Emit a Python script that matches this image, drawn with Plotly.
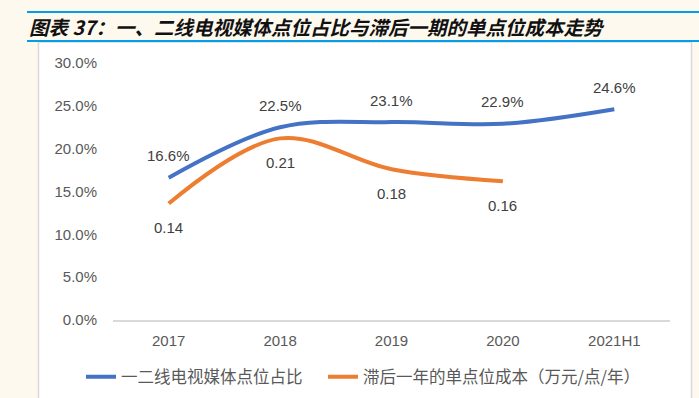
import plotly.graph_objects as go

categories = ["2017", "2018", "2019", "2020", "2021H1"]
share_values = [0.166, 0.225, 0.231, 0.229, 0.246]          # 一二线电视媒体点位占比
cost_categories = ["2017", "2018", "2019", "2020"]
cost_values = [0.136, 0.212, 0.176, 0.162]                  # 滞后一年的单点位成本（万元/点/年）
cost_labels = ["0.14", "0.21", "0.18", "0.16"]
share_labels = ["16.6%", "22.5%", "23.1%", "22.9%", "24.6%"]
y_ticks = [0, 0.05, 0.10, 0.15, 0.20, 0.25, 0.30]

W, H = 699, 398
L, R, T, B = 113, 29, 63, 78
PW, PH = W - L - R, H - T - B


def px(x):
    return (x - L) / PW


def py(y):
    return (H - B - y) / PH


BLUE = "#4472C4"
ORANGE = "#ED7D31"
TXT = "#404040"
TICK = "#595959"

fig = go.Figure()
fig.add_trace(go.Scatter(
    x=categories, y=share_values, mode="lines", name="一二线电视媒体点位占比",
    line=dict(color=BLUE, width=4, shape="spline", smoothing=1), legend="legend",
))
fig.add_trace(go.Scatter(
    x=cost_categories, y=cost_values, mode="lines", name="滞后一年的单点位成本（万元/点/年）",
    line=dict(color=ORANGE, width=4, shape="spline", smoothing=1), legend="legend2",
))

annotations = []
for i, (v, t) in enumerate(zip(share_values, share_labels)):
    annotations.append(dict(x=i, y=v, text=t, showarrow=False, yshift=22,
                            font=dict(family="Liberation Sans, Arial", size=15, color=TXT)))
for i, (v, t) in enumerate(zip(cost_values, cost_labels)):
    annotations.append(dict(x=i, y=v, text=t, showarrow=False, yshift=-24,
                            font=dict(family="Liberation Sans, Arial", size=15, color=TXT)))

annotations.append(dict(
    xref="paper", yref="paper", x=px(27), y=py(26), xanchor="left", yanchor="middle",
    text="<b><i>图表 37：一、二线电视媒体点位占比与滞后一期的单点位成本走势</i></b>",
    showarrow=False, font=dict(family="Noto Sans CJK SC", size=19.5, color="#111111"),
))

shapes = [
    dict(type="rect", xref="paper", yref="paper", x0=px(38.5), x1=px(691.5), y0=py(42), y1=py(400),
         fillcolor="white", line=dict(color="#D9D9D9", width=1.5), layer="below"),
    dict(type="line", xref="paper", yref="paper", x0=px(27), x1=px(700), y0=py(12), y1=py(12),
         line=dict(color="#00A0E9", width=2)),
    dict(type="line", xref="paper", yref="paper", x0=px(27), x1=px(700), y0=py(41), y1=py(41),
         line=dict(color="#00A0E9", width=2)),
]

legend_font = dict(family="Noto Sans CJK SC", size=16.5, color=TICK)

fig.update_layout(
    width=W, height=H,
    margin=dict(l=L, r=R, t=T, b=B, autoexpand=False),
    paper_bgcolor="#FEF9EE",
    plot_bgcolor="white",
    showlegend=True,
    legend=dict(orientation="h", x=px(81), y=py(377), xanchor="left", yanchor="middle",
                font=legend_font, bgcolor="rgba(0,0,0,0)"),
    legend2=dict(orientation="h", x=px(323), y=py(377), xanchor="left", yanchor="middle",
                 font=legend_font, bgcolor="rgba(0,0,0,0)"),
    annotations=annotations,
    shapes=shapes,
    xaxis=dict(
        type="category", categoryarray=categories, range=[-0.5, 4.5],
        showgrid=False, zeroline=False, showline=True, linecolor="#D9D9D9", linewidth=1.5,
        ticks="outside", ticklen=6, tickcolor="rgba(0,0,0,0)",
        tickfont=dict(family="Liberation Sans, Arial", size=15, color=TICK),
    ),
    yaxis=dict(
        range=[0, 0.30], tickvals=y_ticks, tickformat=".1%",
        showgrid=False, zeroline=False, showline=False,
        ticks="outside", ticklen=12, tickcolor="rgba(0,0,0,0)",
        tickfont=dict(family="Liberation Sans, Arial", size=15, color=TICK),
    ),
)

fig.write_html(
    "out.html",
    config={"displayModeBar": False},
    post_script="document.body.style.margin='0px';document.body.style.overflow='hidden';document.body.style.background='#FEF9EE';",
)
